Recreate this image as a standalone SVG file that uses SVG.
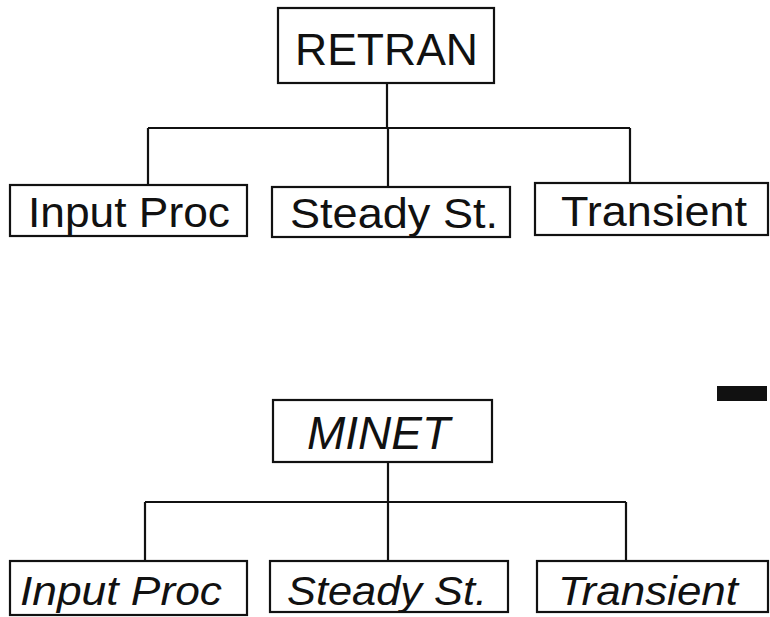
<svg xmlns="http://www.w3.org/2000/svg" width="770" height="617" viewBox="0 0 770 617">
<style>
.box{fill:#fff;stroke:#111;stroke-width:2.2}
.ln{fill:none;stroke:#111;stroke-width:2.2}
.t{font-family:"Liberation Sans",Arial,sans-serif;fill:#111;text-anchor:start}
.i{font-style:italic}
</style>
<rect width="770" height="617" fill="#fff"/>
<g id="connectors">
<path class="ln" d="M387 83V128M148 128H630M148 128V185M388 128V187M630 128V183"/>
<path class="ln" d="M388 462V502M145 502H626M145 502V561M388 502V561M626 502V561"/>
</g>
<g id="retran"><rect class="box" x="278" y="8" width="216" height="75"/><text class="t" x="295" y="65" font-size="45" textLength="183" lengthAdjust="spacingAndGlyphs">RETRAN</text></g>
<g id="r-input"><rect class="box" x="10" y="185" width="237" height="51"/><text class="t" x="28" y="227" font-size="42" textLength="202" lengthAdjust="spacingAndGlyphs">Input Proc</text></g>
<g id="r-steady"><rect class="box" x="272" y="187" width="238" height="50"/><text class="t" x="290" y="228" font-size="42" textLength="208" lengthAdjust="spacingAndGlyphs">Steady St.</text></g>
<g id="r-transient"><rect class="box" x="535" y="183" width="233" height="52"/><text class="t" x="561" y="226" font-size="42" textLength="186" lengthAdjust="spacingAndGlyphs">Transient</text></g>
<g id="minet"><rect class="box" x="273" y="400" width="219" height="62"/><text class="t i" x="307" y="449" font-size="46" textLength="143" lengthAdjust="spacingAndGlyphs">MINET</text></g>
<g id="m-input"><rect class="box" x="10" y="561" width="237" height="54"/><text class="t i" x="20" y="605" font-size="41" textLength="202" lengthAdjust="spacingAndGlyphs">Input Proc</text></g>
<g id="m-steady"><rect class="box" x="270" y="561" width="238" height="51"/><text class="t i" x="287" y="605" font-size="41" textLength="200" lengthAdjust="spacingAndGlyphs">Steady St.</text></g>
<g id="m-transient"><rect class="box" x="537" y="561" width="231" height="51"/><text class="t i" x="558" y="605" font-size="41" textLength="180" lengthAdjust="spacingAndGlyphs">Transient</text></g>
<rect x="717" y="386" width="50" height="15" fill="#111"/>
</svg>
